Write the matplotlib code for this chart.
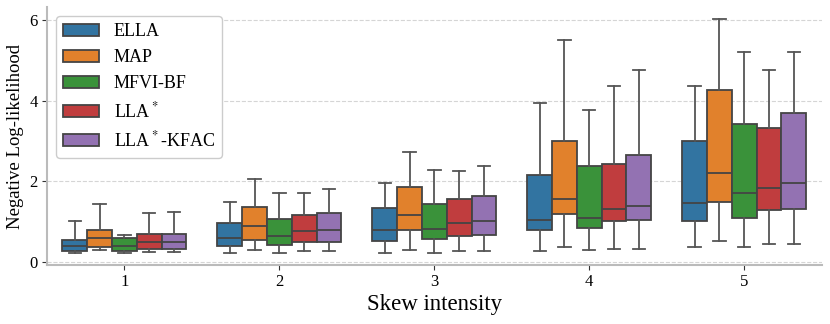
import matplotlib
matplotlib.use('Agg')
import matplotlib.pyplot as plt
from matplotlib.patches import Patch

plt.rcParams['font.family'] = ['Liberation Serif', 'DejaVu Serif']
plt.rcParams['mathtext.fontset'] = 'stix'

### DATA
groups = ['1', '2', '3', '4', '5']
methods = ['ELLA', 'MAP', 'MFVI-BF', 'LLA$^*$', 'LLA$^*$-KFAC']
colors = ['#3274a1', '#e1812c', '#3a923a', '#c03d3e', '#9372b2']

# rows = methods, columns = skew intensity 1..5
whis_low = [[0.22, 0.225, 0.22, 0.28, 0.365],
            [0.30, 0.31, 0.31, 0.37, 0.52],
            [0.22, 0.23, 0.23, 0.29, 0.37],
            [0.26, 0.275, 0.27, 0.33, 0.45],
            [0.26, 0.275, 0.27, 0.33, 0.45]]
q1 = [[0.27, 0.39, 0.53, 0.80, 1.02],
      [0.375, 0.56, 0.79, 1.19, 1.50],
      [0.275, 0.42, 0.57, 0.855, 1.095],
      [0.33, 0.50, 0.66, 1.01, 1.28],
      [0.325, 0.50, 0.68, 1.05, 1.32]]
median = [[0.41, 0.61, 0.80, 1.04, 1.46],
          [0.59, 0.90, 1.16, 1.57, 2.20],
          [0.41, 0.65, 0.83, 1.10, 1.71],
          [0.49, 0.775, 0.98, 1.31, 1.83],
          [0.51, 0.80, 1.02, 1.38, 1.95]]
q3 = [[0.56, 0.96, 1.33, 2.15, 3.00],
      [0.80, 1.375, 1.87, 3.00, 4.25],
      [0.59, 1.06, 1.44, 2.38, 3.41],
      [0.69, 1.175, 1.57, 2.43, 3.32],
      [0.71, 1.22, 1.65, 2.64, 3.70]]
whis_high = [[1.01, 1.48, 1.97, 3.93, 4.37],
             [1.43, 2.07, 2.73, 5.50, 6.02],
             [0.675, 1.72, 2.27, 3.76, 5.19],
             [1.21, 1.72, 2.25, 4.37, 4.76],
             [1.25, 1.82, 2.39, 4.76, 5.21]]

fig = plt.figure(figsize=(8.3, 3.24), dpi=100)
ax = fig.add_axes([0.0566, 0.182, 0.9334, 0.796])

box_w = 0.8/len(methods)
line_c = '#444444'
for m in range(len(methods)):
    stats = []
    for g in range(len(groups)):
        stats.append({'whislo': whis_low[m][g], 'q1': q1[m][g], 'med': median[m][g],
                      'q3': q3[m][g], 'whishi': whis_high[m][g], 'fliers': []})
    pos = [g - 0.4 + box_w*(m + 0.5) for g in range(len(groups))]
    ax.bxp(stats, positions=pos, widths=box_w, capwidths=box_w/2, patch_artist=True,
           showfliers=False, manage_ticks=False,
           boxprops=dict(facecolor=colors[m], edgecolor=line_c, linewidth=1.3),
           medianprops=dict(color=line_c, linewidth=1.3),
           whiskerprops=dict(color='#555555', linewidth=1.3),
           capprops=dict(color='#555555', linewidth=1.3), zorder=3)

ax.set_xlim(-0.5, 4.5)
ax.set_ylim(-0.07, 6.31)
ax.set_xticks(range(len(groups)))
ax.set_xticklabels(groups)
ax.set_yticks([0, 2, 4, 6])
ax.tick_params(axis='both', labelsize=12, length=3.5, width=0.8, color='#333333', pad=3)

ax.yaxis.grid(True, linestyle='--', color='#d5d5d5', linewidth=0.8, zorder=0)
ax.set_axisbelow(True)

ax.spines['right'].set_visible(False)
ax.spines['top'].set_visible(False)
ax.spines['left'].set_color('#bbbbbb')
ax.spines['bottom'].set_color('#bbbbbb')
ax.spines['left'].set_linewidth(1.5)
ax.spines['bottom'].set_linewidth(1.5)

ax.set_ylabel('Negative Log-likelihood', fontsize=13.5)
ax.set_xlabel('Skew intensity', fontsize=16.5, labelpad=3)

handles = [Patch(facecolor=colors[i], edgecolor=line_c, linewidth=1.3, label=methods[i])
           for i in range(len(methods))]
ax.legend(handles=handles, loc='upper left', fontsize=13, edgecolor='#cccccc', framealpha=1)

fig.savefig('out.png', dpi=100)
